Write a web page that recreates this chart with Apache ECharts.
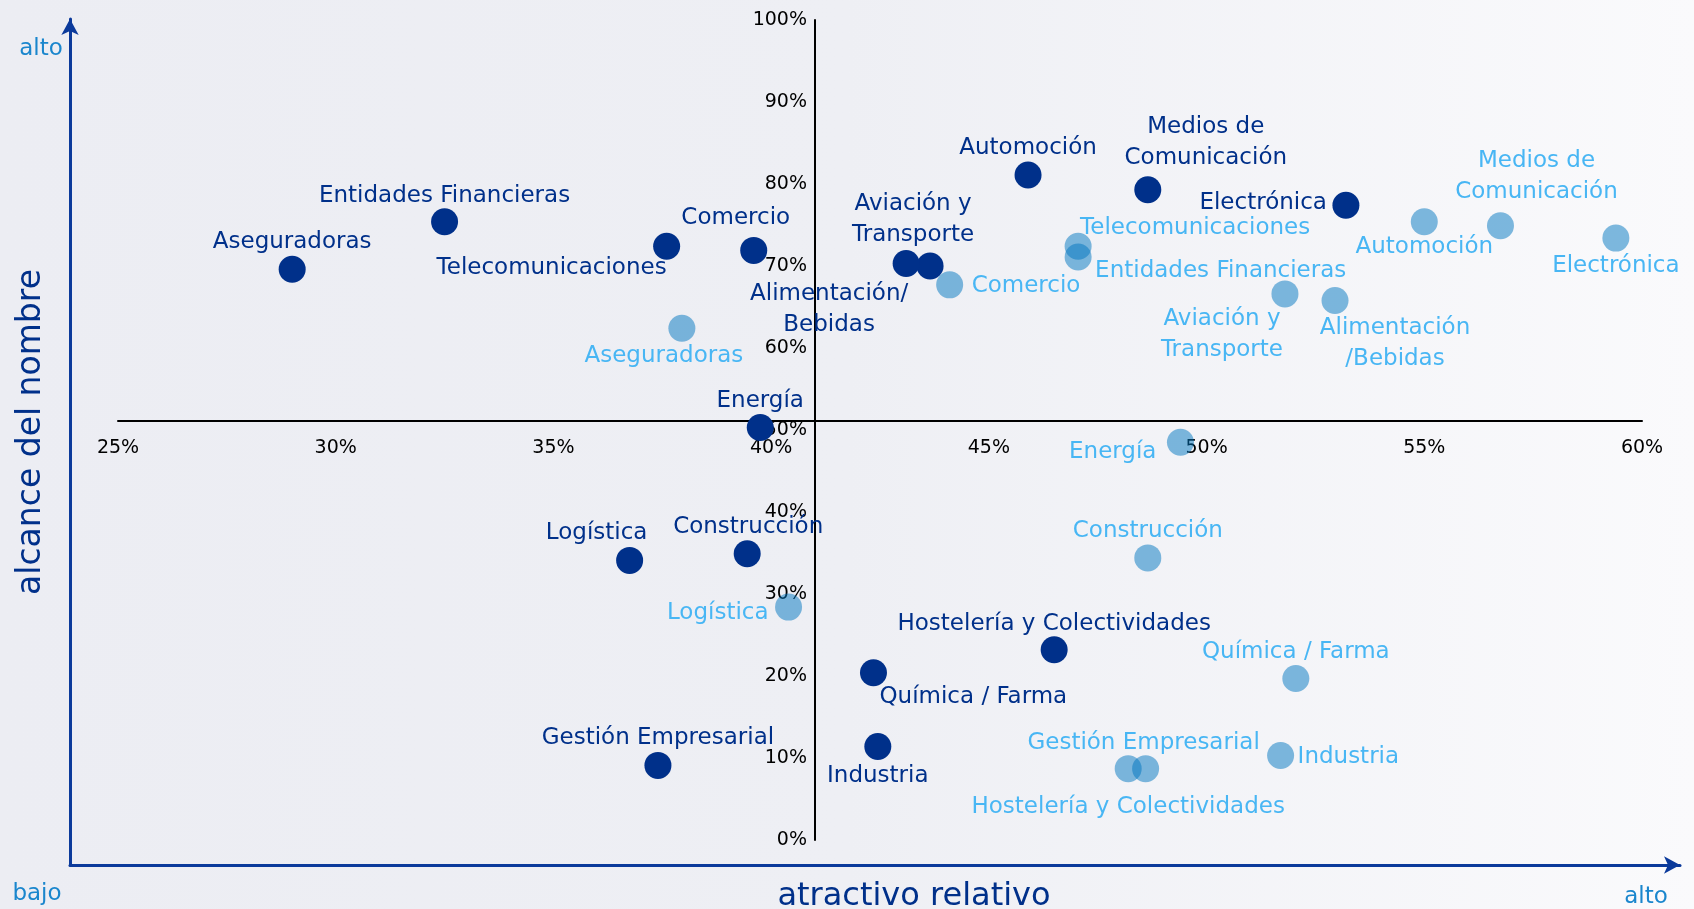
<!DOCTYPE html>
<html>
<head>
<meta charset="utf-8">
<title>atractivo relativo / alcance del nombre</title>
<script src="https://cdn.jsdelivr.net/npm/echarts@6/dist/echarts.min.js"></script>
<style>
    html, body { margin: 0; padding: 0; }
    #chart {
        width: 1694px;
        height: 909px;
        background: linear-gradient(to right, #ecedf3 0%, #eeeff4 50%, #fafafc 100%);
    }
</style>
</head>
<body>
<div id="chart"></div>
<script>
// sectores, mismo orden en las dos series
const sectors = ['Aseguradoras', 'Entidades Financieras', 'Telecomunicaciones', 'Comercio',
    'Automoción', 'Medios de Comunicación', 'Electrónica', 'Aviación y Transporte',
    'Alimentación/Bebidas', 'Energía', 'Logística', 'Construcción',
    'Hostelería y Colectividades', 'Química / Farma', 'Industria', 'Gestión Empresarial'];

// textos tal como aparecen (con saltos de línea)
const darkLabels = ['Aseguradoras', 'Entidades Financieras', 'Telecomunicaciones', 'Comercio',
    'Automoción', 'Medios de\nComunicación', 'Electrónica', 'Aviación y\nTransporte',
    'Alimentación/\nBebidas', 'Energía', 'Logística', 'Construcción',
    'Hostelería y Colectividades', 'Química / Farma', 'Industria', 'Gestión Empresarial'];
const lightLabels = ['Aseguradoras', 'Entidades Financieras', 'Telecomunicaciones', 'Comercio',
    'Automoción', 'Medios de\nComunicación', 'Electrónica', 'Aviación y\nTransporte',
    'Alimentación\n/Bebidas', 'Energía', 'Logística', 'Construcción',
    'Hostelería y Colectividades', 'Química / Farma', 'Industria', 'Gestión Empresarial'];

// atractivo relativo (%) / alcance del nombre (%)
const darkX = [29.0, 32.5, 37.6, 39.6, 45.9, 48.65, 53.2, 43.65, 43.1, 39.75, 36.75, 39.45, 46.5, 42.35, 42.45, 37.4];
const darkY = [69.6, 75.4, 72.4, 71.9, 81.1, 79.3, 77.4, 70.0, 70.3, 50.3, 34.1, 34.9, 23.2, 20.4, 11.4, 9.1];
const lightX = [37.95, 47.05, 47.05, 44.1, 55.0, 56.75, 59.4, 51.8, 52.95, 49.4, 40.4, 48.65, 48.2, 52.05, 51.7, 48.6];
const lightY = [62.4, 71.1, 72.4, 67.7, 75.4, 74.9, 73.4, 66.6, 65.8, 48.5, 28.4, 34.4, 8.7, 19.7, 10.3, 8.7];

// colocación de etiquetas: [alineación, dx, dy] respecto al centro del punto
const darkLabelPos = [
    ['center', 0, -27], ['center', 0, -26], ['right', 0, 22], ['center', -18, -32],
    ['center', 0, -27], ['center', 58, -47], ['right', -19, -2], ['center', -17, -46],
    ['center', -77, 46], ['center', 0, -27], ['center', -33, -27], ['center', 1, -27],
    ['center', 0, -26], ['left', 6, 24], ['center', 0, 30], ['center', 0, -27]
];
const lightLabelPos = [
    ['center', -18, 28], ['left', 17, 14], ['left', 2, -18], ['left', 22, 1],
    ['center', 0, 25], ['center', 36, -49], ['center', 0, 28], ['center', -63, 41],
    ['center', 60, 43], ['right', -24, 10], ['right', -20, 6], ['center', 0, -27],
    ['center', 0, 38], ['center', 0, -26], ['left', 17, 1], ['center', -2, -26]
];

const NAVY = '#00308a';
const LIGHT_TEXT = '#48b6f4';
const FONT = 'DejaVu Sans';

function buildData(xs, ys, labels, places) {
    return xs.map((x, i) => ({
        name: sectors[i],
        value: [x, ys[i]],
        label: {
            formatter: labels[i],
            align: places[i][0],
            offset: [places[i][1], places[i][2]]
        }
    }));
}

const chart = echarts.init(document.getElementById('chart'));
chart.setOption({
    animation: false,
    backgroundColor: 'transparent',
    grid: [
        { left: 118, right: 52, top: 20, bottom: 69 },   // cuadrantes
        { left: 70, right: 14, top: 19, bottom: 44 }     // flechas bajo/alto
    ],
    xAxis: [
        {
            type: 'value', gridIndex: 0,
            min: 25, max: 60, interval: 5,
            offset: -419,
            axisLine: { show: true, onZero: false, lineStyle: { color: '#000', width: 2 } },
            axisTick: { show: false },
            splitLine: { show: false },
            axisLabel: { formatter: '{value}%', color: '#000', fontSize: 19, fontFamily: FONT, margin: 18 }
        },
        {
            type: 'value', gridIndex: 1, min: 0, max: 1,
            axisLine: {
                show: true, onZero: false,
                symbol: ['none', 'arrow'], symbolSize: [13, 16],
                lineStyle: { color: '#0b3a9b', width: 3 }
            },
            axisTick: { show: false }, axisLabel: { show: false }, splitLine: { show: false }
        }
    ],
    yAxis: [
        {
            type: 'value', gridIndex: 0,
            min: 0, max: 100, interval: 10,
            offset: -697,
            axisLine: { show: true, onZero: false, lineStyle: { color: '#000', width: 2 } },
            axisTick: { show: false },
            splitLine: { show: false },
            axisLabel: { formatter: '{value}%', color: '#000', fontSize: 19, fontFamily: FONT, margin: 8 }
        },
        {
            type: 'value', gridIndex: 1, min: 0, max: 1,
            axisLine: {
                show: true, onZero: false,
                symbol: ['none', 'arrow'], symbolSize: [13, 16],
                lineStyle: { color: '#0b3a9b', width: 3 }
            },
            axisTick: { show: false }, axisLabel: { show: false }, splitLine: { show: false }
        }
    ],
    graphic: [
        { type: 'text', x: 41, y: 49, style: { text: 'alto', fill: '#1a86cd', fontSize: 23, fontFamily: FONT, align: 'center', verticalAlign: 'middle' } },
        { type: 'text', x: 37, y: 894, style: { text: 'bajo', fill: '#1a86cd', fontSize: 23, fontFamily: FONT, align: 'center', verticalAlign: 'middle' } },
        { type: 'text', x: 1646, y: 897, style: { text: 'alto', fill: '#1a86cd', fontSize: 23, fontFamily: FONT, align: 'center', verticalAlign: 'middle' } },
        { type: 'text', x: 31, y: 432, rotation: Math.PI / 2, style: { text: 'alcance del nombre', fill: NAVY, fontSize: 33, fontFamily: FONT, align: 'center', verticalAlign: 'middle' } },
        { type: 'text', x: 914, y: 897, style: { text: 'atractivo relativo', fill: NAVY, fontSize: 32, fontFamily: FONT, align: 'center', verticalAlign: 'middle' } }
    ],
    series: [
        {
            type: 'scatter', xAxisIndex: 0, yAxisIndex: 0,
            symbolSize: 27,
            itemStyle: { color: NAVY, opacity: 1 },
            label: { show: true, position: 'inside', color: NAVY, fontSize: 23, fontFamily: FONT, lineHeight: 31, verticalAlign: 'middle' },
            emphasis: { disabled: true },
            data: buildData(darkX, darkY, darkLabels, darkLabelPos)
        },
        {
            type: 'scatter', xAxisIndex: 0, yAxisIndex: 0,
            symbolSize: 27,
            itemStyle: { color: 'rgba(0,117,192,0.5)', opacity: 1 },
            label: { show: true, position: 'inside', color: LIGHT_TEXT, fontSize: 23, fontFamily: FONT, lineHeight: 31, verticalAlign: 'middle' },
            emphasis: { disabled: true },
            data: buildData(lightX, lightY, lightLabels, lightLabelPos)
        }
    ]
});
</script>
</body>
</html>
